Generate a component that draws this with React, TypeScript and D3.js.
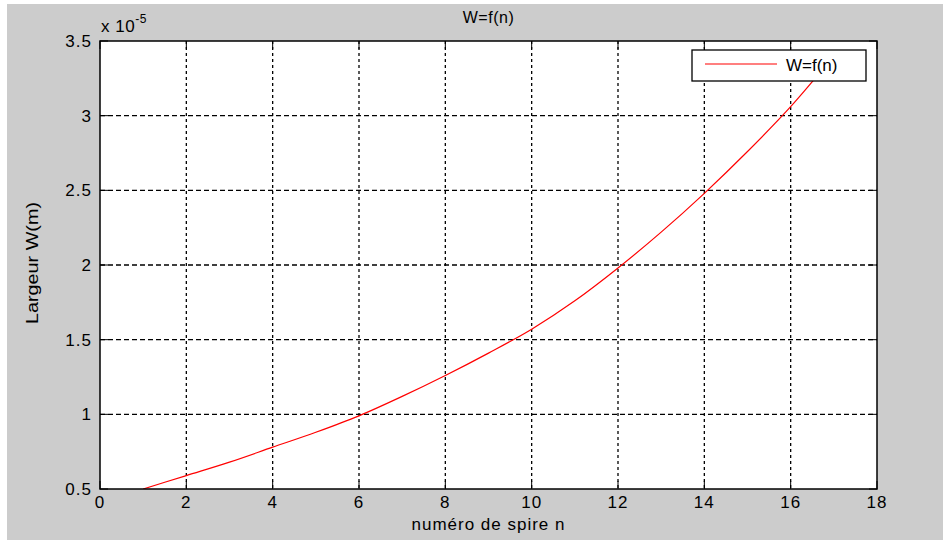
import React from 'react';
import * as d3 from 'd3';

// spire number n and width W (x 1e-5 m)
const spires = [1, 2, 3, 4, 5, 6, 7, 8, 9, 10, 11, 12, 13, 14, 15, 16, 17];
const widths = [0.5, 0.59, 0.68, 0.78, 0.88, 0.99, 1.12, 1.26, 1.41, 1.57, 1.76, 1.98, 2.22, 2.48, 2.76, 3.06, 3.4];
const xTicks = [0, 2, 4, 6, 8, 10, 12, 14, 16, 18];
const yTicks = [0.5, 1, 1.5, 2, 2.5, 3, 3.5];
const yTickLabels = ['0.5', '1', '1.5', '2', '2.5', '3', '3.5'];

const W = 943;
const H = 540;
const left = 100, right = 877, top = 41, bottom = 489;
const font = "'Liberation Sans', Arial, sans-serif";

export default function App() {
  const x = d3.scaleLinear().domain([0, 18]).range([left, right]);
  const y = d3.scaleLinear().domain([0.5, 3.5]).range([bottom, top]);

  const line = d3.line<number>()
    .x((_, i) => x(spires[i]))
    .y(d => y(d))
    .curve(d3.curveMonotoneX);

  const tick = 8;

  return (
    <svg width={W} height={H} style={{ position: 'absolute', left: 0, top: 0 }}>
      <rect x={0} y={0} width={W} height={H} fill="#fff" />
      <rect x={7} y={4} width={W - 7} height={H - 4} fill="#cccccc" />
      <defs>
        <clipPath id="plot">
          <rect x={left} y={top} width={right - left} height={bottom - top} />
        </clipPath>
      </defs>
      <rect x={left} y={top} width={right - left} height={bottom - top} fill="#fff" />

      {/* grid */}
      {xTicks.slice(1, -1).map(t => (
        <line key={'gx' + t} x1={x(t)} x2={x(t)} y1={top} y2={bottom}
          stroke="#000" strokeWidth={1.3} strokeDasharray="3,3" />
      ))}
      {yTicks.slice(1, -1).map(t => (
        <line key={'gy' + t} x1={left} x2={right} y1={y(t)} y2={y(t)}
          stroke="#000" strokeWidth={1.3} strokeDasharray="5,3" />
      ))}

      {/* ticks on all four sides */}
      {xTicks.map(t => (
        <g key={'tx' + t}>
          <line x1={x(t)} x2={x(t)} y1={bottom} y2={bottom - tick} stroke="#000" />
          <line x1={x(t)} x2={x(t)} y1={top} y2={top + tick} stroke="#000" />
          <text x={x(t)} y={bottom + 19} textAnchor="middle" fontFamily={font}
            fontSize={17} letterSpacing={1} fill="#000">{t}</text>
        </g>
      ))}
      {yTicks.map((t, i) => (
        <g key={'ty' + t}>
          <line x1={left} x2={left + tick} y1={y(t)} y2={y(t)} stroke="#000" />
          <line x1={right} x2={right - tick} y1={y(t)} y2={y(t)} stroke="#000" />
          <text x={92} y={y(t) + 6} textAnchor="end" fontFamily={font}
            fontSize={17} letterSpacing={1} fill="#000">{yTickLabels[i]}</text>
        </g>
      ))}

      <path d={line(widths) || ''} fill="none" stroke="#ff0000" strokeWidth={1.2}
        clipPath="url(#plot)" />

      <rect x={left} y={top} width={right - left} height={bottom - top}
        fill="none" stroke="#000" strokeWidth={1.5} />

      {/* exponent */}
      <text x={101} y={32} fontFamily={font} fontSize={17} letterSpacing={0.5} fill="#000">
        x 10
        <tspan fontSize={12} dy={-9}>-5</tspan>
      </text>

      {/* title and axis labels */}
      <text x={(left + right) / 2} y={23} textAnchor="middle" fontFamily={font}
        fontSize={16} letterSpacing={0.5} fill="#000">W=f(n)</text>
      <text x={(left + right) / 2} y={530} textAnchor="middle" fontFamily={font}
        fontSize={17} letterSpacing={1} fill="#000">numéro de spire n</text>
      <text transform={`translate(38,${(top + bottom) / 2 - 2}) rotate(-90)`}
        textAnchor="middle" fontFamily={font} fontSize={16} fill="#000"
        textLength={122} lengthAdjust="spacingAndGlyphs">Largeur W(m)</text>

      {/* legend */}
      <rect x={692} y={50} width={174} height={31} fill="#fff" stroke="#000" strokeWidth={1.3} />
      <line x1={705} x2={777} y1={64} y2={64} stroke="#ff0000" strokeWidth={1.2} />
      <text x={786} y={71} fontFamily={font} fontSize={17} fill="#000">W=f(n)</text>
    </svg>
  );
}
